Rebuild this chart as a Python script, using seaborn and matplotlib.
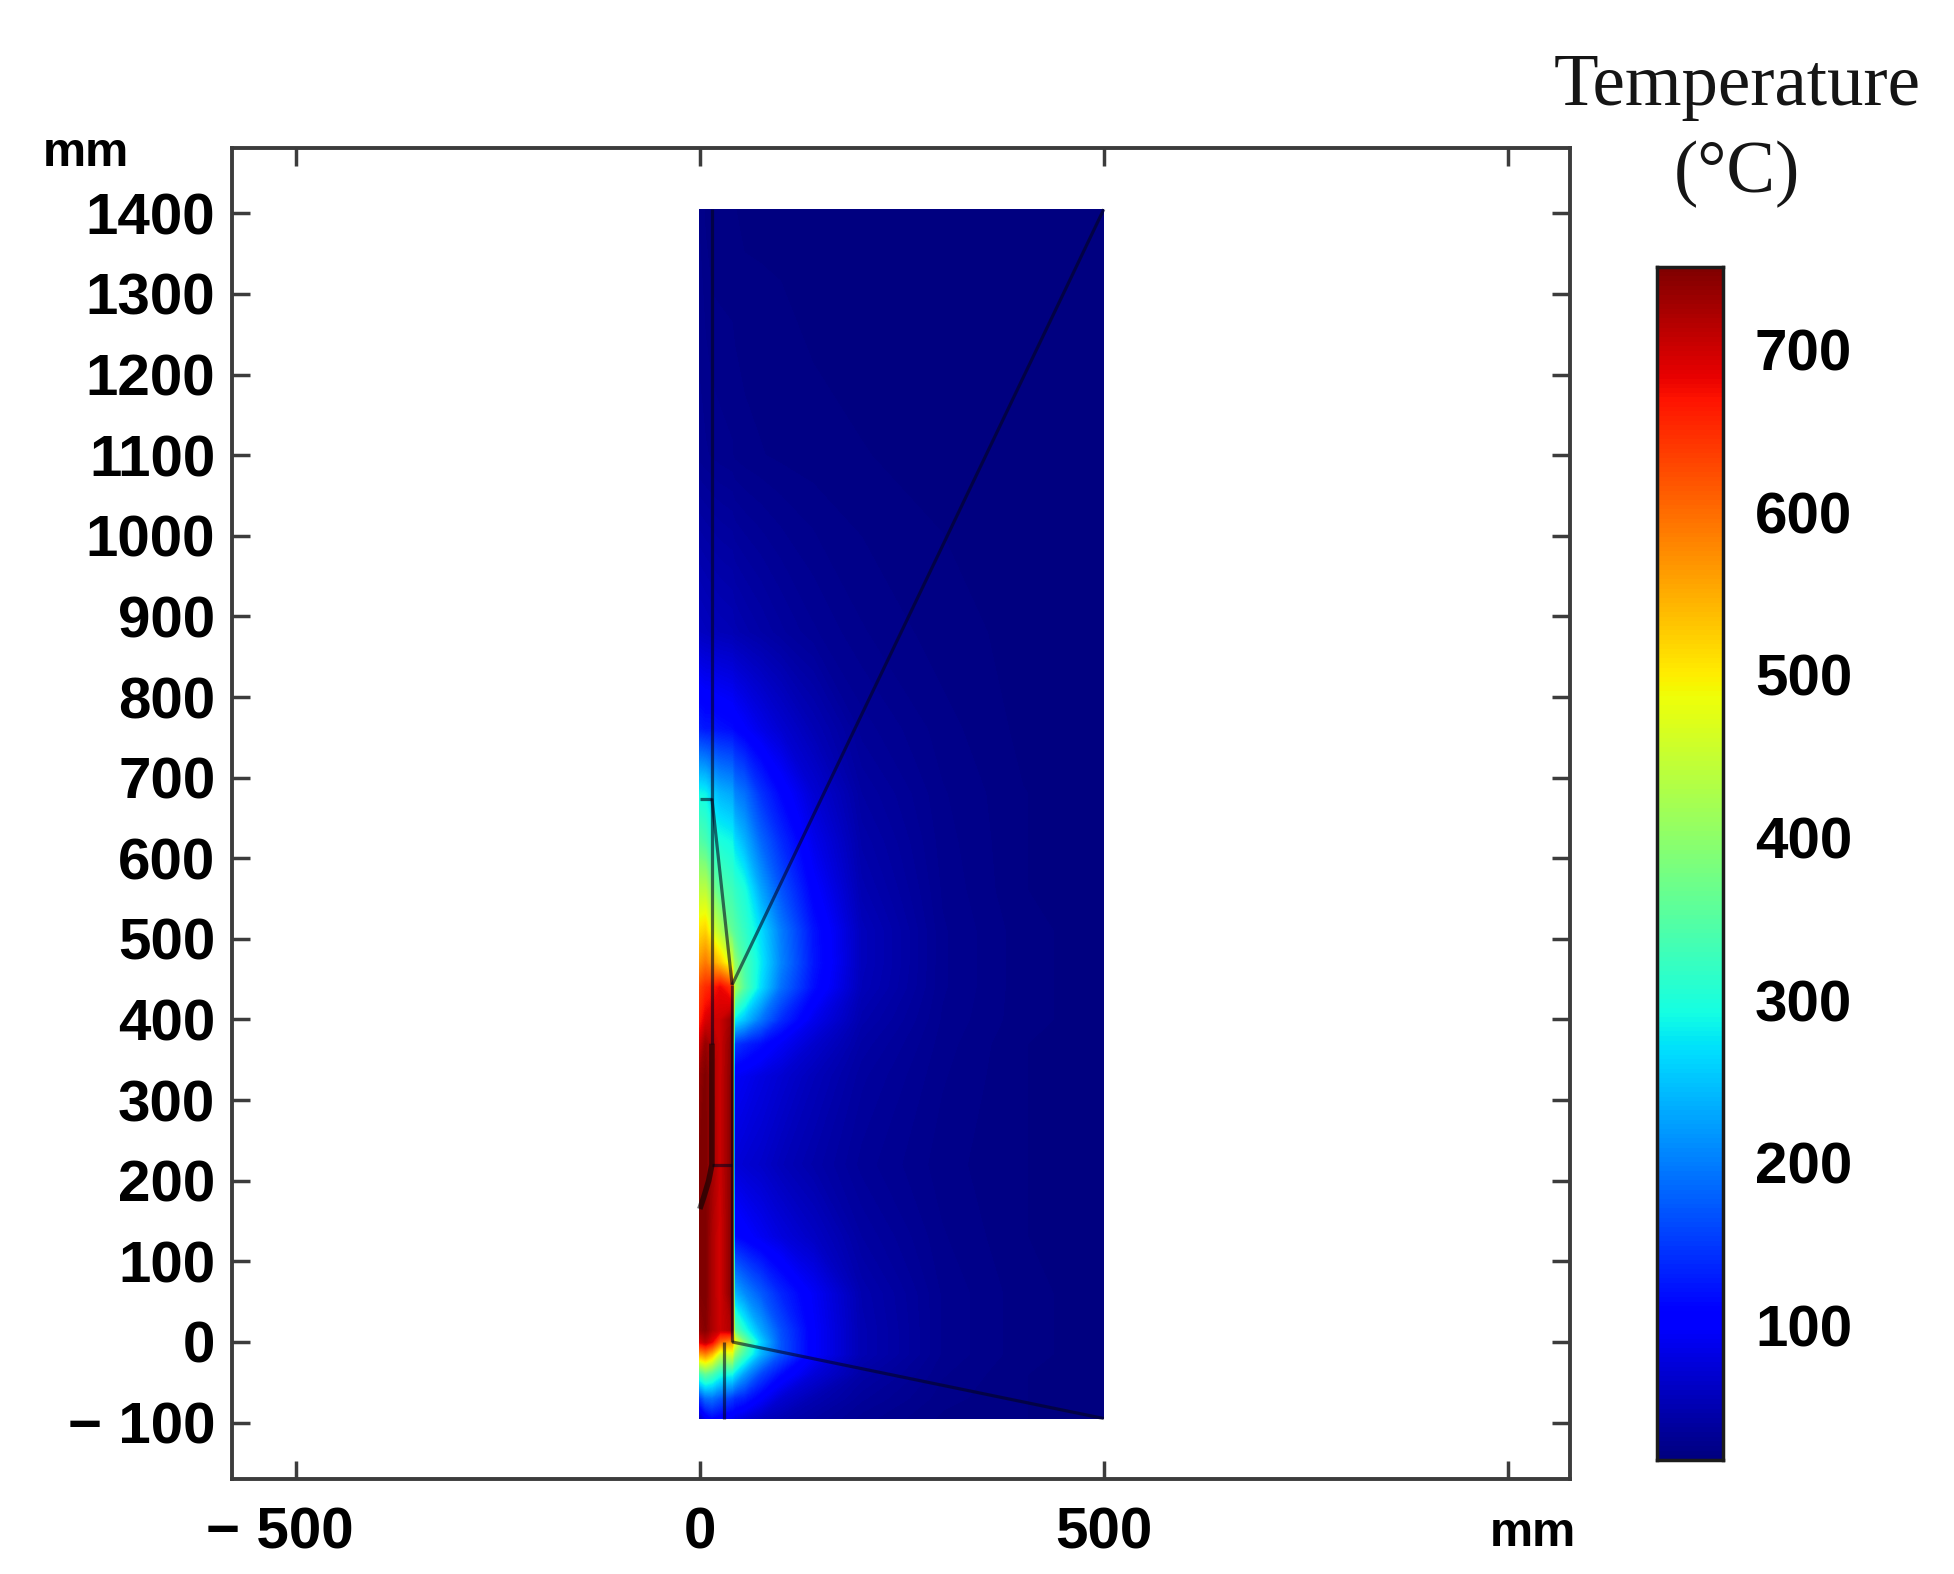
import matplotlib
matplotlib.use("Agg")
import matplotlib.pyplot as plt
import numpy as np
import seaborn as sns

# temperature readings (deg C) at nodes of the model
x_nodes = [0, 7, 15, 25, 40, 43, 55, 75, 100, 140, 200, 300, 400, 500]
y_nodes = [-95, -70, -40, -15, 0, 15, 60, 130, 220, 330, 370, 400, 440, 470, 510, 560,
           620, 680, 760, 880, 1100, 1405]
temps = [
    [60, 90, 110, 100, 90, 85, 75, 60, 50, 40, 30, 22, 20, 18],
    [150, 185, 190, 170, 150, 140, 130, 100, 70, 50, 35, 24, 20, 18],
    [330, 360, 340, 300, 290, 270, 220, 160, 115, 75, 42, 26, 20, 18],
    [560, 580, 540, 450, 470, 400, 330, 240, 170, 100, 50, 28, 21, 18],
    [690, 710, 680, 600, 560, 490, 380, 260, 170, 100, 50, 28, 21, 18],
    [735, 745, 720, 700, 720, 360, 300, 230, 165, 100, 50, 28, 21, 18],
    [748, 750, 720, 695, 748, 240, 210, 175, 135, 95, 48, 28, 21, 18],
    [750, 750, 720, 695, 748, 115, 105, 92, 78, 62, 40, 26, 20, 18],
    [750, 750, 730, 700, 748, 75, 70, 65, 55, 45, 33, 24, 20, 18],
    [735, 750, 725, 700, 748, 95, 90, 80, 70, 55, 38, 26, 20, 18],
    [700, 735, 720, 700, 745, 150, 135, 118, 95, 68, 42, 27, 20, 18],
    [660, 690, 700, 700, 735, 280, 250, 195, 140, 88, 47, 28, 21, 18],
    [630, 650, 660, 680, 640, 420, 350, 270, 190, 118, 54, 29, 21, 18],
    [570, 590, 560, 530, 460, 400, 340, 280, 205, 125, 56, 29, 21, 18],
    [510, 520, 470, 430, 360, 350, 320, 270, 200, 122, 56, 29, 21, 18],
    [440, 440, 390, 350, 330, 320, 300, 230, 170, 105, 50, 28, 20, 18],
    [350, 340, 310, 300, 290, 270, 240, 185, 140, 88, 45, 27, 20, 18],
    [290, 285, 260, 240, 230, 205, 190, 145, 110, 72, 40, 26, 20, 18],
    [130, 125, 125, 120, 115, 110, 100, 85, 70, 52, 33, 24, 19, 18],
    [60, 58, 56, 54, 52, 50, 47, 43, 38, 32, 26, 21, 19, 18],
    [30, 29, 28, 27, 26, 25, 24, 23, 22, 21, 20, 19, 18, 18],
    [25, 22, 20, 20, 20, 20, 19, 19, 19, 18, 18, 18, 18, 18],
]
temp_min, temp_max = 17, 751

# model geometry edges (mm)
edges = [
    ([15, 15], [1405, 370]),
    ([0, 15], [674, 674]),
    ([15, 40], [674, 443]),
    ([40, 500], [443, 1405]),
    ([40, 40], [0, 443]),
    ([40, 500], [0, -95]),
    ([30, 30], [-95, 0]),
    ([15, 40], [220, 220]),
]
heavy_edges = [
    ([15, 15, 11, 5, 0], [370, 220, 200, 180, 165]),
]

x_ticks = [-500, 0, 500, 1000]
x_labels = ["\u2212 500  ", "0", "500", ""]
y_ticks = [-100, 0, 100, 200, 300, 400, 500, 600, 700, 800, 900, 1000, 1100, 1200, 1300, 1400]
y_labels = ["\u2212 100"] + [str(v) for v in y_ticks[1:]]
cbar_ticks = [100, 200, 300, 400, 500, 600, 700]

W, H = 1954, 1574
sns.set_theme(style="ticks", rc={
    "xtick.direction": "in",
    "ytick.direction": "in",
    "axes.edgecolor": "#3c3c3c",
    "xtick.color": "#3c3c3c",
    "ytick.color": "#3c3c3c",
})
plt.rcParams["font.family"] = ["Liberation Sans", "DejaVu Sans"]

fig = plt.figure(figsize=(W / 100, H / 100), dpi=100)
ax = fig.add_axes([232 / W, 1 - 1479 / H, 1338 / W, 1331 / H])

levels = np.linspace(temp_min, temp_max, 256)
ax.contourf(x_nodes, y_nodes, np.array(temps), levels=levels, cmap="jet",
            extend="both", antialiased=False)
for ex, ey in edges:
    ax.plot(ex, ey, color="#05051e", lw=2.3, alpha=0.6, solid_capstyle="butt")
for ex, ey in heavy_edges:
    ax.plot(ex, ey, color="#050505", lw=4, alpha=0.6, solid_capstyle="butt")

ax.set_xlim(-579, 1077)
ax.set_ylim(-170, 1481)
ax.set_xticks(x_ticks, x_labels)
ax.set_yticks(y_ticks, y_labels)
ax.tick_params(axis="x", length=13, width=2.5, top=True, pad=20, labelsize=42,
               labelcolor="black")
ax.tick_params(axis="y", length=13, width=2.5, right=True, pad=12, labelsize=42,
               labelcolor="black")
for lab in ax.get_xticklabels() + ax.get_yticklabels():
    lab.set_fontweight("bold")
for spine in ax.spines.values():
    spine.set_linewidth(2.8)

# colour bar as a one column heatmap
cax = fig.add_axes([1657 / W, 1 - 1460 / H, 66 / W, 1193 / H])
strip = np.linspace(temp_max, temp_min, 256).reshape(-1, 1)
sns.heatmap(strip, ax=cax, cmap="jet", vmin=temp_min, vmax=temp_max, cbar=False,
            xticklabels=False, yticklabels=False)
cax.yaxis.tick_right()
cax.set_yticks([(temp_max - v) / (temp_max - temp_min) * 256 for v in cbar_ticks],
               [str(v) for v in cbar_ticks], rotation=0)
cax.tick_params(axis="y", direction="in", length=9, width=2.2, left=True, right=True,
                color="#300000", pad=23, labelsize=42, labelcolor="black")
for lab in cax.get_yticklabels():
    lab.set_fontweight("bold")
for spine in cax.spines.values():
    spine.set_visible(True)
    spine.set_linewidth(2.5)
    spine.set_color("#1c1c1c")

fig.text(1737 / W, 1 - 87 / H, "Temperature", family="Liberation Serif", fontsize=52.5,
         ha="center", va="center", color="#151515")
fig.text(1737 / W, 1 - 174 / H, "(\u00b0C)", family="Liberation Serif", fontsize=52.5,
         ha="center", va="center", color="#151515")
fig.text(86 / W, 1 - 154 / H, "mm", fontsize=35, fontweight="bold", ha="center",
         va="center", color="black")
fig.text(1533 / W, 1 - 1533 / H, "mm", fontsize=35, fontweight="bold", ha="center",
         va="center", color="black")

fig.savefig("out.png", dpi=100, facecolor="white")
